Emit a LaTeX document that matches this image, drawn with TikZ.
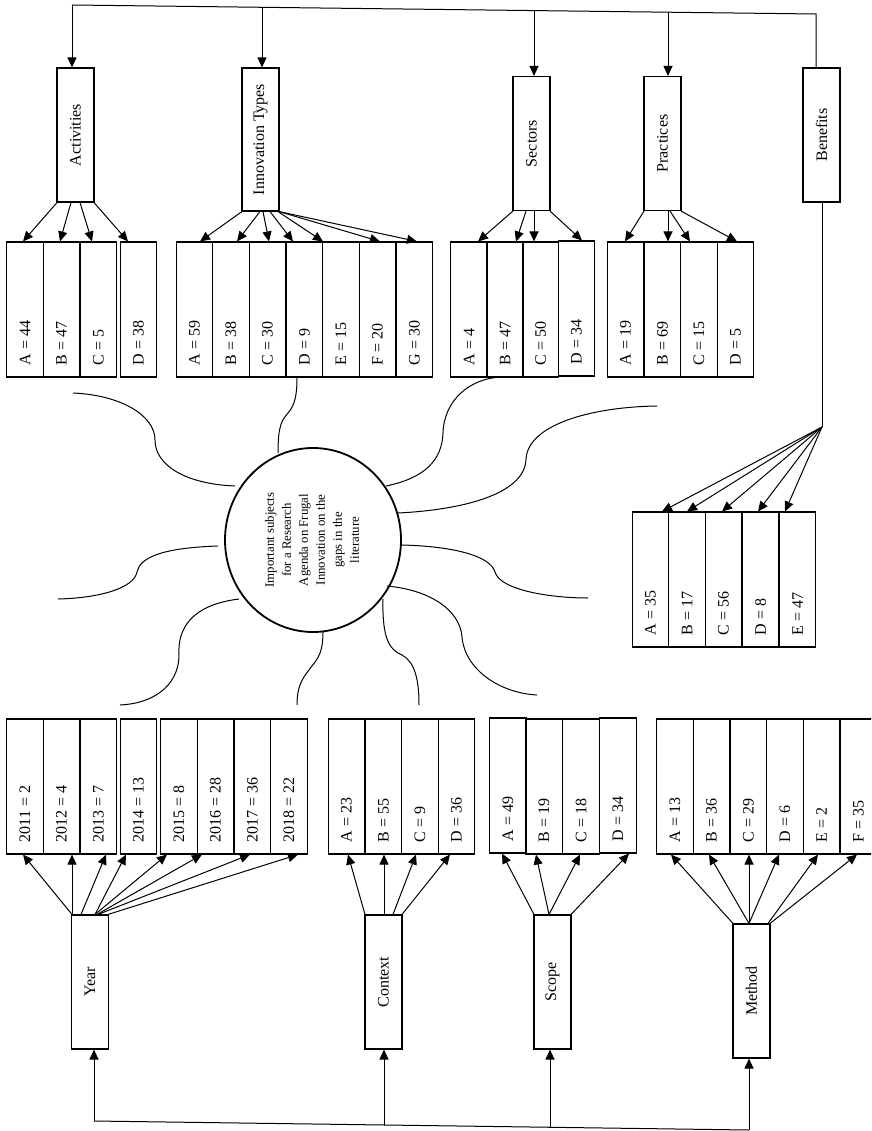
\documentclass[tikz,border=0pt]{standalone}
\usepackage{fontspec}
\setmainfont{Liberation Serif}
\usetikzlibrary{arrows.meta,shapes.geometric}

\tikzset{
  val/.style={draw, line width=1.1pt, minimum width=36.7pt, minimum height=135pt, inner sep=0pt, font=\fontsize{16}{19}\selectfont},
  head/.style={draw, line width=1.1pt, minimum width=37pt, minimum height=134pt, inner sep=0pt, font=\fontsize{16}{19}\selectfont},
  hub/.style={ellipse, draw, line width=1.8pt, minimum width=176pt, minimum height=184pt, inner sep=0pt, font=\fontsize{12.8}{17}\selectfont},
  fan/.style={-{Triangle[length=10pt,width=9pt]}, line width=1pt},
  bus/.style={line width=1pt},
  vine/.style={line width=1pt}
}
\newcommand{\vlab}[1]{\rotatebox{90}{\makebox[111pt][l]{#1}}}
\newcommand{\hlab}[1]{\rotatebox{90}{#1}}

\begin{document}
\begin{tikzpicture}[x=1pt,y=-1pt]
\useasboundingbox (0,0) rectangle (871,1131);
\clip (0,0) rectangle (871,1131);

% centre
\node[hub] (hub) at (313,540) {\rotatebox{90}{\begin{tabular}{@{}c@{}}Important subjects\\for a Research\\Agenda on Frugal\\Innovation on the\\gaps in the\\literature\end{tabular}}};

% upper headers
\node[head] (act) at (75.5,135) {\hlab{Activities}};
\node[head, minimum height=143pt] (inn) at (260.5,139.5) {\hlab{Innovation Types}};
\node[head] (sec) at (531.5,143.5) {\hlab{Sectors}};
\node[head] (pra) at (662.5,143.5) {\hlab{Practices}};
\node[head] (ben) at (821.5,135) {\hlab{Benefits}};

% upper values
\node[val] (act1) at (25,309.5) {\vlab{A = 44}};
\node[val] (act2) at (61.5,309.5) {\vlab{B = 47}};
\node[val] (act3) at (98.5,309.5) {\vlab{C = 5}};
\node[val] (act4) at (138.5,309.5) {\vlab{D = 38}};

\node[val] (inn1) at (194.5,309.5) {\vlab{A = 59}};
\node[val] (inn2) at (231,309.5) {\vlab{B = 38}};
\node[val] (inn3) at (267.5,309.5) {\vlab{C = 30}};
\node[val] (inn4) at (304.5,309.5) {\vlab{D = 9}};
\node[val] (inn5) at (341,309.5) {\vlab{E = 15}};
\node[val] (inn6) at (377.5,309.5) {\vlab{F = 20}};
\node[val] (inn7) at (414.5,309.5) {\vlab{G = 30}};

\node[val] (sec1) at (469,309.5) {\vlab{A = 4}};
\node[val] (sec2) at (505,309.5) {\vlab{B = 47}};
\node[val] (sec3) at (540.5,309.5) {\vlab{C = 50}};
\node[val] (sec4) at (576.5,308.5) {\vlab{D = 34}};

\node[val] (pra1) at (625.5,309.5) {\vlab{A = 19}};
\node[val] (pra2) at (662.5,309.5) {\vlab{B = 69}};
\node[val] (pra3) at (699,309.5) {\vlab{C = 15}};
\node[val] (pra4) at (735.5,309.5) {\vlab{D = 5}};

\node[val] (ben1) at (650.5,579.5) {\vlab{A = 35}};
\node[val] (ben2) at (687,579.5) {\vlab{B = 17}};
\node[val] (ben3) at (723.5,579.5) {\vlab{C = 56}};
\node[val] (ben4) at (760.5,579.5) {\vlab{D = 8}};
\node[val] (ben5) at (797.5,579.5) {\vlab{E = 47}};

% lower headers
\node[head] (year) at (90,982) {\hlab{Year}};
\node[head] (ctx) at (383.5,982) {\hlab{Context}};
\node[head] (scp) at (552.5,982) {\hlab{Scope}};
\node[head] (mth) at (751.5,991) {\hlab{Method}};

% lower values
\node[val] (yr1) at (25,786.5) {\vlab{2011 = 2}};
\node[val] (yr2) at (61.5,786.5) {\vlab{2012 = 4}};
\node[val] (yr3) at (98.5,786.5) {\vlab{2013 = 7}};
\node[val] (yr4) at (138.5,786.5) {\vlab{2014 = 13}};
\node[val] (yr5) at (179,786.5) {\vlab{2015 = 8}};
\node[val] (yr6) at (215.5,786.5) {\vlab{2016 = 28}};
\node[val] (yr7) at (252.5,786.5) {\vlab{2017 = 36}};
\node[val] (yr8) at (289,786.5) {\vlab{2018 = 22}};

\node[val] (ctx1) at (346.5,786.5) {\vlab{A = 23}};
\node[val] (ctx2) at (383.5,786.5) {\vlab{B = 55}};
\node[val] (ctx3) at (420,786.5) {\vlab{C = 9}};
\node[val] (ctx4) at (456.5,786.5) {\vlab{D = 36}};

\node[val] (scp1) at (508,785.5) {\vlab{A = 49}};
\node[val] (scp2) at (544,786.5) {\vlab{B = 19}};
\node[val] (scp3) at (581,786.5) {\vlab{C = 18}};
\node[val] (scp4) at (618,785.5) {\vlab{D = 34}};

\node[val] (mth1) at (675,786.5) {\vlab{A = 13}};
\node[val] (mth2) at (711.5,786.5) {\vlab{B = 36}};
\node[val] (mth3) at (748.5,786.5) {\vlab{C = 29}};
\node[val] (mth4) at (785,786.5) {\vlab{D = 6}};
\node[val] (mth5) at (821.5,786.5) {\vlab{E = 2}};
\node[val] (mth6) at (858.5,786.5) {\vlab{F = 35}};

% top bus
\coordinate (tl) at (72,5);
\coordinate (ti) at (262,7.3);
\coordinate (ts) at (534,10.6);
\coordinate (tp) at (668,12.2);
\coordinate (tr) at (816,14);
\draw[bus] (tl) -- (tr) -- ([xshift=-5.5pt]ben.north);
\draw[fan] (tl) -- ([xshift=-3.5pt]act.north);
\draw[fan] (ti) -- ([xshift=1.5pt]inn.north);
\draw[fan] (ts) -- ([xshift=2.5pt]sec.north);
\draw[fan] (tp) -- ([xshift=5.5pt]pra.north);

% bottom bus
\coordinate (bl) at (94,1121);
\coordinate (bc) at (384,1125);
\coordinate (bs) at (550,1127.3);
\coordinate (br) at (749,1130);
\draw[bus] (bl) -- (br);
\draw[fan] (bl) -- ([xshift=4pt]year.south);
\draw[fan] (bc) -- ([xshift=0.5pt]ctx.south);
\draw[fan] (bs) -- ([xshift=-2.5pt]scp.south);
\draw[fan] (br) -- ([xshift=-2.5pt]mth.south);

% activities
\draw[fan] ([xshift=-18.5pt]act.south) -- ([xshift=-2pt]act1.north);
\draw[fan] ([xshift=-4.5pt]act.south) -- ([xshift=-1.5pt]act2.north);
\draw[fan] ([xshift=4.5pt]act.south) -- ([xshift=-6.5pt]act3.north);
\draw[fan] ([xshift=18.5pt]act.south) -- ([xshift=-10.5pt]act4.north);

% innovation types
\draw[fan] ([xshift=-18.5pt]inn.south) -- ([xshift=5.5pt]inn1.north);
\draw[fan] ([xshift=-0.5pt]inn.south) -- ([xshift=6pt]inn2.north);
\draw[fan] ([xshift=2.5pt]inn.south) -- ([xshift=1.5pt]inn3.north);
\draw[fan] ([xshift=9.5pt]inn.south) -- ([xshift=-11.5pt]inn4.north);
\draw[fan] ([xshift=17.5pt]inn.south) -- ([xshift=-18pt]inn5.north);
\draw[fan] ([xshift=18.5pt]inn.south) -- ([xshift=2.5pt]inn6.north);
\draw[fan] ([xshift=18.5pt]inn.south) -- ([xshift=2.5pt]inn7.north);

% sectors
\draw[fan] ([xshift=-18.5pt]sec.south) -- ([xshift=9pt]sec1.north);
\draw[fan] ([xshift=-5.5pt]sec.south) -- ([xshift=11pt]sec2.north);
\draw[fan] ([xshift=2.5pt]sec.south) -- ([xshift=-6.5pt]sec3.north);
\draw[fan] ([xshift=18.5pt]sec.south) -- ([xshift=5.5pt]sec4.north);

% practices
\draw[fan] ([xshift=-18.5pt]pra.south) -- ([xshift=-0.5pt]pra1.north);
\draw[fan] ([xshift=5.5pt]pra.south) -- ([xshift=5.5pt]pra2.north);
\draw[fan] ([xshift=7.5pt]pra.south) -- ([xshift=-9pt]pra3.north);
\draw[fan] ([xshift=18.5pt]pra.south) -- ([xshift=1.5pt]pra4.north);

% benefits
\coordinate (bf) at (822,427);
\draw[bus] ([xshift=0.5pt]ben.south) -- (bf);
\draw[fan] (bf) -- ([xshift=11.5pt]ben1.north);
\draw[fan] (bf) -- (ben2.north);
\draw[fan] (bf) -- ([xshift=-1.5pt]ben3.north);
\draw[fan] (bf) -- ([xshift=-2.5pt]ben4.north);
\draw[fan] (bf) -- ([xshift=-12.5pt]ben5.north);

% year
\draw[fan] ([xshift=-18pt]year.north) -- ([xshift=-2pt]yr1.south);
\draw[fan] ([xshift=-18pt]year.north) -- ([xshift=10.5pt]yr2.south);
\draw[fan] ([xshift=-9pt]year.north) -- ([xshift=7.5pt]yr3.south);
\draw[fan] ([xshift=5pt]year.north) -- ([xshift=-12.5pt]yr4.south);
\draw[fan] ([xshift=5pt]year.north) -- ([xshift=-12pt]yr5.south);
\draw[fan] ([xshift=7pt]year.north) -- ([xshift=-13.5pt]yr6.south);
\draw[fan] ([xshift=8pt]year.north) -- ([xshift=-2.5pt]yr7.south);
\draw[fan] ([xshift=18pt]year.north) -- ([xshift=9pt]yr8.south);

% context
\draw[fan] ([xshift=-18.5pt]ctx.north) -- ([xshift=1.5pt]ctx1.south);
\draw[fan] ([xshift=0.5pt]ctx.north) -- ([xshift=0.5pt]ctx2.south);
\draw[fan] ([xshift=9.5pt]ctx.north) -- ([xshift=-4pt]ctx3.south);
\draw[fan] ([xshift=18.5pt]ctx.north) -- ([xshift=-6.5pt]ctx4.south);

% scope
\draw[fan] ([xshift=-18.5pt]scp.north) -- ([xshift=-6pt]scp1.south);
\draw[fan] ([xshift=-3.5pt]scp.north) -- ([xshift=-8pt]scp2.south);
\draw[fan] ([xshift=-3.5pt]scp.north) -- ([xshift=-1pt]scp3.south);
\draw[fan] ([xshift=18.5pt]scp.north) -- ([xshift=11pt]scp4.south);

% method
\draw[fan] ([xshift=-18.5pt]mth.north) -- ([xshift=-4pt]mth1.south);
\draw[fan] ([xshift=-2.5pt]mth.north) -- ([xshift=-2.5pt]mth2.south);
\draw[fan] ([xshift=-2.5pt]mth.north) -- ([xshift=0.5pt]mth3.south);
\draw[fan] ([xshift=-2.5pt]mth.north) -- ([xshift=-6pt]mth4.south);
\draw[fan] ([xshift=16.5pt]mth.north) -- ([xshift=-3.5pt]mth5.south);
\draw[fan] ([xshift=18.5pt]mth.north) -- ([xshift=-1.5pt]mth6.south);

% wavy lines round the centre
\draw[vine] (235,486) .. controls (185,484) and (155,465) .. (155,440) .. controls (155,415) and (120,395) .. (73,393);
\draw[vine] (218,546) .. controls (160,548) and (140,558) .. (137,572) .. controls (134,588) and (100,598) .. (58,599);
\draw[vine] (239,599) .. controls (190,605) and (178,630) .. (179,653) .. controls (180,680) and (160,703) .. (120,705);
\draw[vine] (323,632) .. controls (323,658) and (314,662) .. (309,670) .. controls (300,681) and (297,690) .. (297,705);
\draw[vine] (383,599) .. controls (382,640) and (390,650) .. (402,655) .. controls (415,662) and (419,680) .. (419,705);
\draw[vine] (387,586) .. controls (430,590) and (460,610) .. (462,637) .. controls (465,670) and (500,693) .. (537,695);
\draw[vine] (401,545) .. controls (450,546) and (490,555) .. (495,572) .. controls (500,590) and (550,598) .. (588,598);
\draw[vine] (398,513) .. controls (460,510) and (525,495) .. (526,459) .. controls (528,425) and (590,407) .. (657,406);
\draw[vine] (386,486) .. controls (425,478) and (442,460) .. (443,433) .. controls (444,400) and (470,378) .. (502,377);
\draw[vine] (278,453) .. controls (278,425) and (282,420) .. (288,413) .. controls (295,405) and (297,395) .. (297,377);
\end{tikzpicture}
\end{document}
